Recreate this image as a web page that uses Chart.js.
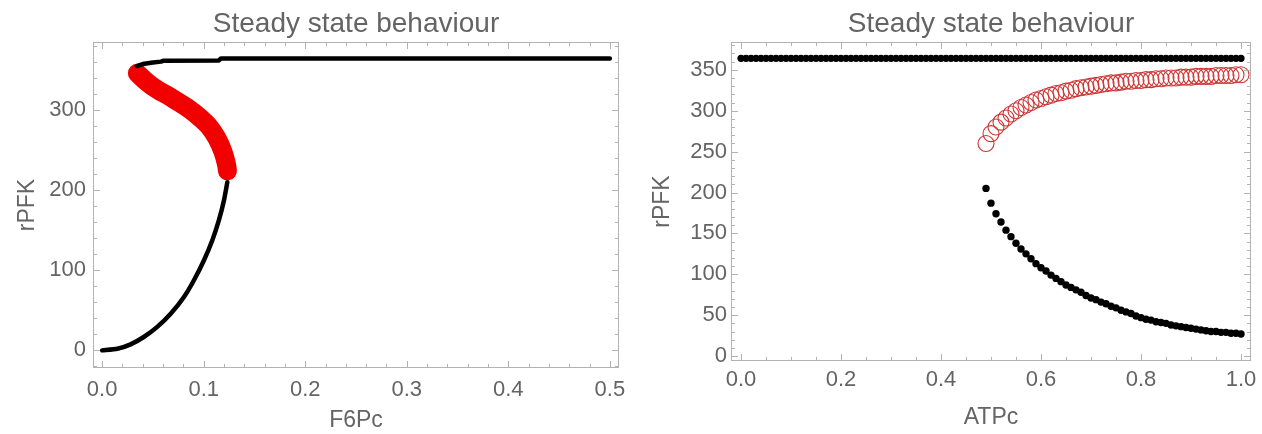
<!DOCTYPE html>
<html>
<head>
<meta charset="utf-8">
<script src="https://cdn.jsdelivr.net/npm/chart.js@4.4.0/dist/chart.umd.min.js"></script>
<style>
  html, body { margin: 0; padding: 0; background: #fff; }
  #wrap { position: relative; width: 1262px; height: 434px; overflow: hidden; }
  .box { position: absolute; top: 0; width: 631px; height: 434px; }
  #left { left: 0; }
  #right { left: 631px; }
</style>
</head>
<body>
<div id="wrap">
  <div class="box" id="left"><canvas id="f6pChart"></canvas></div>
  <div class="box" id="right"><canvas id="atpChart"></canvas></div>
</div>
<script>
// ---- F6Pc sweep (left panel) ----
const f6pLow  = [0, 0.015, 0.028, 0.041, 0.054, 0.0675, 0.0806, 0.0904, 0.1003, 0.1085, 0.115, 0.12, 0.1233];
const rpfkLow = [0, 2, 7.5, 16.7, 29, 45.8, 66.7, 87.5, 112.5, 137.5, 162.5, 187.5, 210];

const f6pMid  = [0.0347, 0.045, 0.055, 0.065, 0.075, 0.085, 0.095, 0.105, 0.113, 0.119, 0.1225, 0.1234];
const rpfkMid = [346, 334, 325, 318, 310, 302, 292, 280, 265, 248, 232, 224];

const f6pHigh  = [0.034, 0.04, 0.045, 0.05, 0.058, 0.06, 0.115, 0.117, 0.5];
const rpfkHigh = [355, 357.5, 358.5, 359.5, 360.5, 361.5, 362, 364.5, 364.5];

const f6pTicks  = [0, 0.1, 0.2, 0.3, 0.4, 0.5];
const f6pLabels = ['0.0', '0.1', '0.2', '0.3', '0.4', '0.5'];
const rpfkTicksL  = [0, 100, 200, 300];
const rpfkLabelsL = ['0', '100', '200', '300'];

// ---- ATPc sweep (right panel) ----
const atpc = [0, 0.01, 0.02, 0.03, 0.04, 0.05, 0.06, 0.07, 0.08, 0.09,
  0.1, 0.11, 0.12, 0.13, 0.14, 0.15, 0.16, 0.17, 0.18, 0.19,
  0.2, 0.21, 0.22, 0.23, 0.24, 0.25, 0.26, 0.27, 0.28, 0.29,
  0.3, 0.31, 0.32, 0.33, 0.34, 0.35, 0.36, 0.37, 0.38, 0.39,
  0.4, 0.41, 0.42, 0.43, 0.44, 0.45, 0.46, 0.47, 0.48, 0.49,
  0.5, 0.51, 0.52, 0.53, 0.54, 0.55, 0.56, 0.57, 0.58, 0.59,
  0.6, 0.61, 0.62, 0.63, 0.64, 0.65, 0.66, 0.67, 0.68, 0.69,
  0.7, 0.71, 0.72, 0.73, 0.74, 0.75, 0.76, 0.77, 0.78, 0.79,
  0.8, 0.81, 0.82, 0.83, 0.84, 0.85, 0.86, 0.87, 0.88, 0.89,
  0.9, 0.91, 0.92, 0.93, 0.94, 0.95, 0.96, 0.97, 0.98, 0.99, 1];

const rpfkTop = [364, 364, 364, 364, 364, 364, 364, 364, 364, 364,
  364, 364, 364, 364, 364, 364, 364, 364, 364, 364,
  364, 364, 364, 364, 364, 364, 364, 364, 364, 364,
  364, 364, 364, 364, 364, 364, 364, 364, 364, 364,
  364, 364, 364, 364, 364, 364, 364, 364, 364, 364,
  364, 364, 364, 364, 364, 364, 364, 364, 364, 364,
  364, 364, 364, 364, 364, 364, 364, 364, 364, 364,
  364, 364, 364, 364, 364, 364, 364, 364, 364, 364,
  364, 364, 364, 364, 364, 364, 364, 364, 364, 364,
  364, 364, 364, 364, 364, 364, 364, 364, 364, 364, 364];

// unstable and lower branches exist from ATPc = 0.49 onwards
const atpcBranch = atpc.slice(49);
const rpfkUnstable = [260, 272, 280, 286, 291, 296, 300, 304, 307, 310,
  313, 315, 317, 319, 321, 322, 324, 325, 327, 328,
  329, 330, 331, 332, 333, 334, 334, 335, 336, 336,
  337, 337, 338, 338, 339, 339, 340, 340, 340, 341,
  341, 341, 342, 342, 342, 342, 343, 343, 343, 343, 344, 344];
const rpfkBottom = [205, 187, 174, 164, 154, 146, 138, 131, 125, 119,
  113, 108, 104, 99, 95, 91, 87, 84, 81, 78,
  74, 71, 69, 66, 64, 61, 59, 56, 54, 52,
  49, 47, 45, 44, 42, 41, 40, 38, 37, 36,
  35, 34, 33, 32, 31, 30, 30, 29, 29, 28, 28, 27];

const atpTicks  = [0, 0.2, 0.4, 0.6, 0.8, 1];
const atpLabels = ['0.0', '0.2', '0.4', '0.6', '0.8', '1.0'];
const rpfkTicksR  = [0, 50, 100, 150, 200, 250, 300, 350];
const rpfkLabelsR = ['0', '50', '100', '150', '200', '250', '300', '350'];

const TEXT = '#646464';
const FRAME = '#b2b2b2';
Chart.defaults.font.family = "'Liberation Sans', Arial, sans-serif";
Chart.defaults.color = TEXT;

const xy = (xs, ys) => xs.map((x, i) => ({ x: x, y: ys[i] }));

// Mathematica-like frame: box around the plot with inward ticks on all four sides
const frameTicks = {
  id: 'frameTicks',
  afterDatasetsDraw(chart, args, opts) {
    const { ctx, chartArea: a, scales: { x, y } } = chart;
    ctx.save();
    ctx.strokeStyle = FRAME;
    ctx.lineWidth = 1;
    ctx.strokeRect(a.left + 0.5, a.top + 0.5, a.width - 1, a.height - 1);
    ctx.beginPath();
    const xs = opts.xMajor, ys = opts.yMajor;
    for (let v = xs[0] - opts.xMinor * 10; v <= x.max + 1e-9; v += opts.xMinor) {
      if (v < x.min) continue;
      const major = xs.some(m => Math.abs(m - v) < 1e-9);
      const len = major ? 7 : 4;
      const px = Math.round(x.getPixelForValue(v)) + 0.5;
      ctx.moveTo(px, a.bottom); ctx.lineTo(px, a.bottom - len);
      ctx.moveTo(px, a.top); ctx.lineTo(px, a.top + len);
    }
    for (let v = ys[0] - opts.yMinor * 10; v <= y.max + 1e-9; v += opts.yMinor) {
      if (v < y.min) continue;
      const major = ys.some(m => Math.abs(m - v) < 1e-9);
      const len = major ? 7 : 4;
      const py = Math.round(y.getPixelForValue(v)) + 0.5;
      ctx.moveTo(a.left, py); ctx.lineTo(a.left + len, py);
      ctx.moveTo(a.right, py); ctx.lineTo(a.right - len, py);
    }
    ctx.stroke();
    ctx.restore();
  }
};

function makeOptions(c) {
  return {
    responsive: true,
    maintainAspectRatio: false,
    animation: false,
    layout: { padding: { left: 0, right: c.padRight, top: 0, bottom: 0 } },
    scales: {
      x: {
        type: 'linear', min: c.xMin, max: c.xMax,
        afterBuildTicks: s => { s.ticks = c.xTicks.map(v => ({ value: v })); },
        afterFit: s => { s.height = c.xHeight; s.paddingLeft = 0; s.paddingRight = 0; },
        grid: { display: false, drawTicks: false },
        border: { display: false },
        ticks: { callback: (v, i) => c.xLabels[i], font: { size: 22 }, padding: c.xTickPad, maxRotation: 0, autoSkip: false },
        title: { display: true, text: c.xTitle, font: { size: 23 }, padding: { top: 0, bottom: c.xTitlePad } }
      },
      y: {
        type: 'linear', min: c.yMin, max: c.yMax,
        afterBuildTicks: s => { s.ticks = c.yTicks.map(v => ({ value: v })); },
        afterFit: s => { s.width = c.yWidth; s.paddingTop = 0; s.paddingBottom = 0; },
        grid: { display: false, drawTicks: false },
        border: { display: false },
        ticks: { callback: (v, i) => c.yLabels[i], font: { size: 22 }, padding: c.yTickPad, autoSkip: false },
        title: { display: true, text: 'rPFK', font: { size: 23 }, padding: { top: c.yTitlePad, bottom: 0 } }
      }
    },
    plugins: {
      legend: { display: false },
      tooltip: { enabled: false },
      title: {
        display: true, fullSize: false, text: 'Steady state behaviour', color: TEXT,
        font: { size: 28, weight: 'normal' }, padding: { top: 7.7, bottom: 0.7 }
      },
      frameTicks: { xMajor: c.xTicks, yMajor: c.yTicks, xMinor: c.xMinor, yMinor: c.yMinor }
    }
  };
}

new Chart(document.getElementById('f6pChart'), {
  type: 'scatter',
  data: {
    datasets: [
      { data: xy(f6pLow, rpfkLow), showLine: true, borderColor: '#000', borderWidth: 4.5, pointRadius: 0,
        tension: 0.2, borderCapStyle: 'round', borderJoinStyle: 'round' },
      { data: xy(f6pHigh, rpfkHigh), showLine: true, borderColor: '#000', borderWidth: 4.5, pointRadius: 0,
        tension: 0, borderCapStyle: 'round', borderJoinStyle: 'round' },
      { data: xy(f6pMid, rpfkMid), showLine: true, borderColor: '#f20000', borderWidth: 19, pointRadius: 0,
        tension: 0.4, borderCapStyle: 'round', borderJoinStyle: 'round' }
    ]
  },
  options: makeOptions({
    xMin: -0.009, xMax: 0.509, yMin: -22, yMax: 385,
    xTicks: f6pTicks, xLabels: f6pLabels, yTicks: rpfkTicksL, yLabels: rpfkLabelsL,
    xTitle: 'F6Pc', xMinor: 0.02, yMinor: 20,
    padRight: 12, yWidth: 93, xHeight: 66, xTickPad: 9, xTitlePad: 0, yTickPad: 7, yTitlePad: 14
  }),
  plugins: [frameTicks]
});

new Chart(document.getElementById('atpChart'), {
  type: 'scatter',
  data: {
    datasets: [
      { data: xy(atpc, rpfkTop), backgroundColor: '#000', borderWidth: 0, pointRadius: 3.6 },
      { data: xy(atpcBranch, rpfkBottom), backgroundColor: '#000', borderWidth: 0, pointRadius: 3.7 },
      { data: xy(atpcBranch, rpfkUnstable), backgroundColor: 'rgba(0,0,0,0)', borderColor: '#cf3535',
        borderWidth: 1.1, pointRadius: 8 }
    ]
  },
  options: makeOptions({
    xMin: -0.02, xMax: 1.02, yMin: -6, yMax: 384,
    xTicks: atpTicks, xLabels: atpLabels, yTicks: rpfkTicksR, yLabels: rpfkLabelsR,
    xTitle: 'ATPc', xMinor: 0.05, yMinor: 10,
    padRight: 11, yWidth: 100, xHeight: 73, xTickPad: 6, xTitlePad: 3, yTickPad: 4, yTitlePad: 18
  }),
  plugins: [frameTicks]
});
</script>
</body>
</html>
